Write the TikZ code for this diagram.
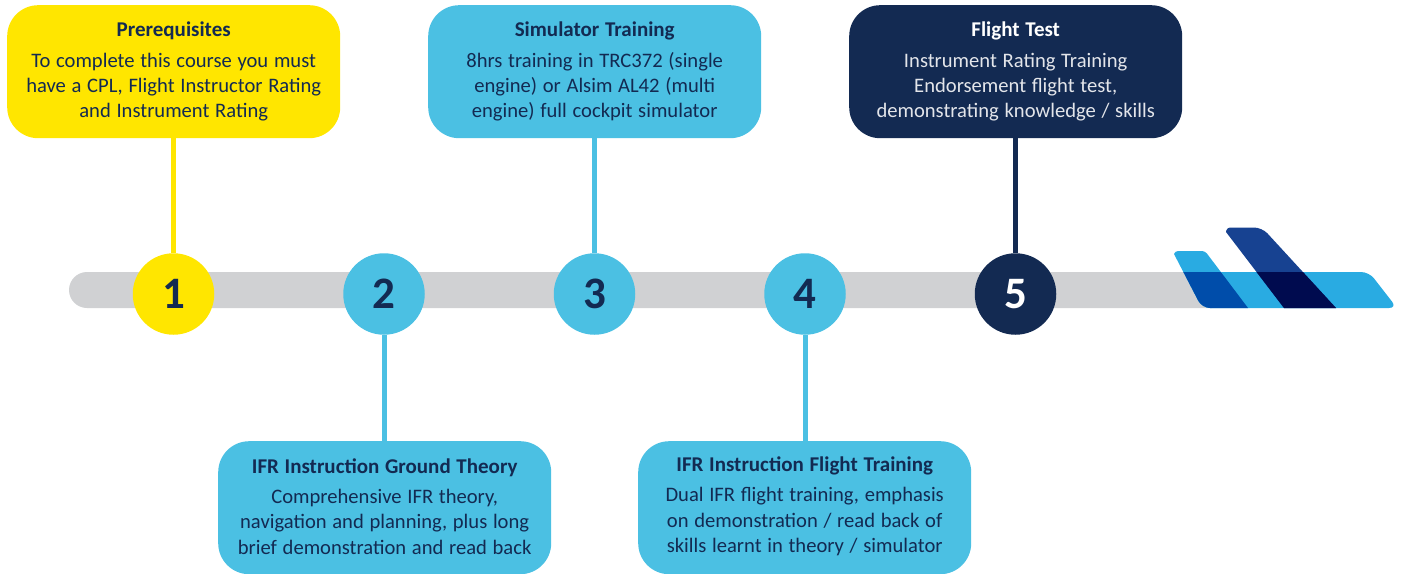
\documentclass[tikz,border=0pt]{standalone}
\usepackage{fontspec}
\setmainfont{Carlito}
\definecolor{cyel}{HTML}{FFE600}
\definecolor{ccya}{HTML}{4BC0E3}
\definecolor{cnav}{HTML}{132A52}
\definecolor{cgry}{HTML}{D0D1D3}
\definecolor{plight}{HTML}{29ABE2}
\definecolor{pmid}{HTML}{004DAA}
\definecolor{pfin}{HTML}{174291}
\definecolor{pdark}{HTML}{000B4F}
\tikzset{
  x=1pt,y=-1pt,
  box/.style={rounded corners=31pt,minimum width=333pt,minimum height=133pt,inner sep=0pt,
    text width=325pt,align=center,font=\fontsize{20.6}{25.4}\selectfont,anchor=north west},
  ybox/.style={box,fill=cyel,text=cnav},
  cbox/.style={box,fill=ccya,text=cnav},
  nbox/.style={box,fill=cnav,text=white!88!cnav},
  num/.style={circle,minimum size=81.5pt,inner sep=0pt,font=\fontsize{45}{45}\selectfont\bfseries},
  ynum/.style={num,fill=cyel,text=cnav},
  cnum/.style={num,fill=ccya,text=cnav},
  nnum/.style={num,fill=cnav,text=white},
  link/.style={line width=5pt}
}
\newcommand{\boxhead}[1]{\spaceskip=5.7pt\relax{\bfseries\fontsize{21}{25.4}\selectfont #1}\\[5pt]}
\newcommand{\lowend}{\par\vspace{2.5pt}}
\def\smallfin{(1174,254) [rounded corners=3pt] -- (1175,251) -- (1205,251) [rounded corners=0pt] -- (1248,308) [rounded corners=8pt] -- (1202,308) [rounded corners=0pt] -- cycle}
\def\bigfin{(1226,232) [rounded corners=3pt] -- (1227,227.5) [rounded corners=8pt] -- (1262,227.5) [rounded corners=0pt] -- (1336,308) -- (1284,308) -- cycle}
\begin{document}
\begin{tikzpicture}
\useasboundingbox (0,0) rectangle (1402,573);
% bar
\fill[cgry,rounded corners=18pt] (69,272) rectangle (1230,308);
% aeroplane tail
\fill[plight,rounded corners=8pt] (1215,272) -- (1369,272) -- (1397,308) -- (1240,308) -- cycle;
\fill[plight] \smallfin;
\begin{scope}
  \clip (1150,272) rectangle (1402,320);
  \fill[pmid] \smallfin;
\end{scope}
\fill[pfin] \bigfin;
\begin{scope}
  \clip (1150,272) rectangle (1402,320);
  \fill[pdark] \bigfin;
\end{scope}
% text boxes
\node[ybox] (b1) at (7,5) {\boxhead{Prerequisites}To complete this course you must\\have a CPL, Flight Instructor Rating\\and Instrument Rating};
\node[cbox] (b3) at (428,5) {\boxhead{Simulator Training}8hrs training in TRC372 (single\\engine) or Alsim AL42 (multi\\engine) full cockpit simulator};
\node[nbox] (b5) at (849,5) {\boxhead{\textcolor{white}{Flight Test}}Instrument Rating Training\\Endorsement flight test,\\demonstrating knowledge / skills};
\node[cbox] (b2) at (218,441) {\boxhead{IFR Instruction Ground Theory}Comprehensive IFR theory,\\navigation and planning, plus long\\brief demonstration and read back\lowend};
\node[cbox] (b4) at (638,441) {\boxhead{IFR Instruction Flight Training}Dual IFR flight training, emphasis\\on demonstration / read back of\\skills learnt in theory / simulator\lowend};
% numbered circles
\node[ynum] (n1) at (173.5,294) {1};
\node[cnum] (n2) at (384,294) {2};
\node[cnum] (n3) at (594.5,294) {3};
\node[cnum] (n4) at (805,294) {4};
\node[nnum] (n5) at (1015.5,294) {5};
% connectors
\draw[link,cyel] (n1.north) -- (n1.north |- b1.south);
\draw[link,ccya] (n2.south) -- (n2.south |- b2.north);
\draw[link,ccya] (n3.north) -- (n3.north |- b3.south);
\draw[link,ccya] (n4.south) -- (n4.south |- b4.north);
\draw[link,cnav] (n5.north) -- (n5.north |- b5.south);
\end{tikzpicture}
\end{document}
